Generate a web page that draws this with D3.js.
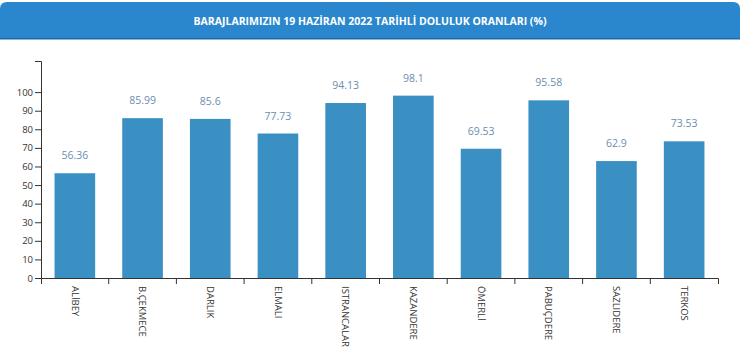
<!DOCTYPE html>
<html>
<head>
<meta charset="utf-8">
<script src="https://cdn.jsdelivr.net/npm/d3@7"></script>
<style>
  html, body { margin: 0; padding: 0; background: #ffffff; }
  body { width: 740px; height: 361px; overflow: hidden; font-family: "Open Sans", "Noto Sans", sans-serif; }
</style>
</head>
<body>
<svg id="chart" width="740" height="361"></svg>
<script>
const titleText = "BARAJLARIMIZIN 19 HAZİRAN 2022 TARİHLİ DOLULUK ORANLARI (%)";
const categories = ["ALİBEY", "B.ÇEKMECE", "DARLIK", "ELMALI", "ISTRANCALAR", "KAZANDERE", "ÖMERLİ", "PABUÇDERE", "SAZLIDERE", "TERKOS"];
const values = [56.36, 85.99, 85.6, 77.73, 94.13, 98.1, 69.53, 95.58, 62.9, 73.53];
const yTicks = [0, 10, 20, 30, 40, 50, 60, 70, 80, 90, 100];

const svg = d3.select("#chart");
const W = 740, H = 361;
const m = { left: 41, right: 22, top: 61, bottom: 83 };

// header band
const hdr = svg.append("g");
hdr.append("path")
  .attr("d", (() => {
    const x0 = 0, x1 = W, y0 = 2, y1 = 39, r = 7;
    return `M${x0},${y1} L${x0},${y0 + r} Q${x0},${y0} ${x0 + r},${y0} L${x1 - r},${y0} Q${x1},${y0} ${x1},${y0 + r} L${x1},${y1} Z`;
  })())
  .attr("fill", "#2a87cd");
hdr.append("rect").attr("x", 0).attr("y", 38).attr("width", W).attr("height", 1.5).attr("fill", "#1d6aa8");
hdr.append("text")
  .attr("x", W / 2).attr("y", 21)
  .attr("text-anchor", "middle").attr("dominant-baseline", "central")
  .attr("fill", "#ffffff").attr("font-size", "10.5px").attr("font-weight", "700")
  .text(titleText);

const x = d3.scaleBand().domain(categories).range([m.left, W - m.right]).paddingInner(0.4).paddingOuter(0.2);
const y = d3.scaleLinear().domain([0, d3.max(values) * 1.19]).range([H - m.bottom, m.top]);

// bars
svg.append("g").selectAll("rect").data(values).join("rect")
  .attr("x", (d, i) => x(categories[i]))
  .attr("y", d => y(d))
  .attr("width", x.bandwidth())
  .attr("height", d => y(0) - y(d))
  .attr("fill", "#3a8fc3");

// value labels
svg.append("g").selectAll("text").data(values).join("text")
  .attr("x", (d, i) => x(categories[i]) + x.bandwidth() / 2)
  .attr("y", d => y(d) - 14)
  .attr("text-anchor", "middle")
  .attr("fill", "#6d8db0")
  .attr("font-size", "10.5px")
  .text(d => d);

// y axis
const yAxis = svg.append("g").attr("transform", `translate(${m.left},0)`)
  .call(d3.axisLeft(y).tickValues(yTicks).tickSize(6).tickSizeOuter(6).tickPadding(2));
yAxis.selectAll("text").attr("font-size", "9.5px").attr("fill", "#333").attr("font-family", "'Open Sans', sans-serif");
yAxis.selectAll("path, line").attr("stroke", "#333");

// x axis (ticks at band boundaries)
const xAxis = svg.append("g").attr("transform", `translate(0,${y(0)})`)
  .call(d3.axisBottom(x).tickSize(0).tickSizeOuter(6).tickPadding(0));
xAxis.selectAll("path").attr("stroke", "#333");
xAxis.selectAll(".tick text")
  .attr("transform", "rotate(90)")
  .attr("x", 8).attr("y", 0).attr("dy", "0.35em")
  .attr("text-anchor", "start")
  .attr("font-size", "9.5px").attr("fill", "#333")
  .attr("font-family", "'Open Sans', sans-serif");
const bounds = categories.slice(1).map(c => x(c) - x.step() * x.paddingInner() / 2);
xAxis.selectAll("line.bound").data(bounds).join("line").attr("class", "bound")
  .attr("x1", d => d).attr("x2", d => d).attr("y1", 0).attr("y2", 6)
  .attr("stroke", "#333");
</script>
</body>
</html>
